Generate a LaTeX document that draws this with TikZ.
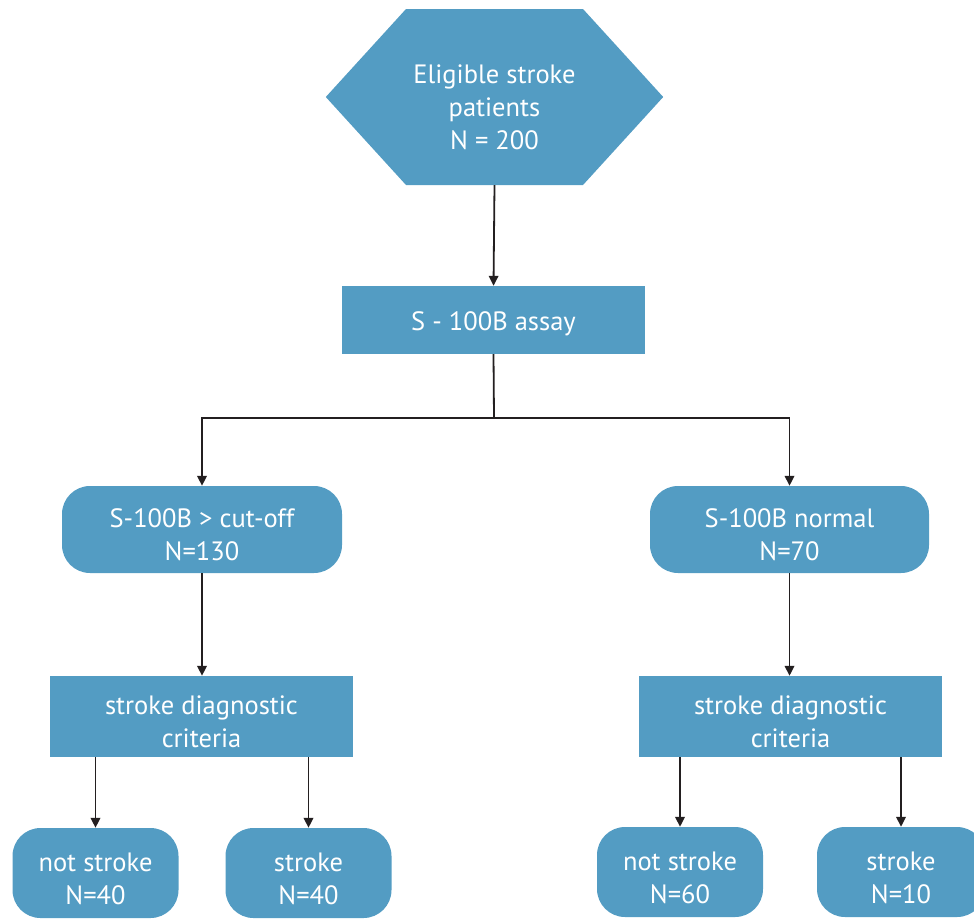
\documentclass[tikz,border=0pt]{standalone}
\usepackage{fontspec}
\setmainfont{PT Sans}
\usepackage{tikz}
\usetikzlibrary{arrows.meta}
\definecolor{boxblue}{HTML}{539CC3}
\definecolor{arrowgray}{HTML}{231F20}
\newcommand{\boxlines}[2][-8pt]{\raisebox{#1}[\height][\depth]{\begin{tabular}{@{}c@{}}#2\end{tabular}}}

\begin{document}
\begin{tikzpicture}[x=1pt, y=-1pt,
        txt/.style={text=white, align=center, font=\fontsize{26.5}{33}\selectfont},
        rectbox/.style={txt, fill=boxblue, inner sep=0pt},
        roundbox/.style={txt, fill=boxblue, rounded corners=28pt, inner sep=0pt},
        arr/.style={-{Triangle[length=10pt, width=9.5pt]}, line width=1.8pt, arrowgray}]
        \useasboundingbox (0,0) rectangle (974,918);
        \clip (0,0) rectangle (974,918);

        % Top hexagon
        \node[minimum width=337pt, minimum height=176pt, inner sep=0pt] (elig) at (494.5,97) {};
        \fill[boxblue] (406,9) -- (583,9) -- (elig.east) -- (583,185) -- (406,185) -- (elig.west) -- cycle;
        \node[txt] (eligtxt) at (494.5,107) {Eligible stroke\\patients\\N = 200};

        % Assay
        \node[rectbox, minimum width=303pt, minimum height=68pt] (assay) at (493.5,320) {\boxlines[-4pt]{S - 100B assay}};

        % Two branches
        \node[roundbox, minimum width=280pt, minimum height=87pt] (high) at (202,529.5) {\boxlines{S-100B > cut-off\\N=130}};
        \node[roundbox, minimum width=279pt, minimum height=87pt] (norm) at (789.5,529.5) {\boxlines{S-100B normal\\N=70}};

        % Diagnostic criteria
        \node[rectbox, minimum width=303pt, minimum height=81pt] (critL) at (201.5,716.5) {\boxlines{stroke diagnostic\\criteria}};
        \node[rectbox, minimum width=303pt, minimum height=81pt] (critR) at (790.5,716.5) {\boxlines{stroke diagnostic\\criteria}};

        % Outcomes
        \node[roundbox, minimum width=166pt, minimum height=90pt] (notL) at (95.5,873) {\boxlines{not stroke\\N=40}};
        \node[roundbox, minimum width=166pt, minimum height=90pt] (strL) at (308.5,873) {\boxlines{stroke\\N=40}};
        \node[roundbox, minimum width=166pt, minimum height=90pt] (notR) at (680,872) {\boxlines{not stroke\\N=60}};
        \node[roundbox, minimum width=168pt, minimum height=90pt] (strR) at (901,872) {\boxlines{stroke\\N=10}};

        % Connectors
        \coordinate (split) at (494,418);
        \draw[arr] (elig.south) -- (assay.north);
        \draw[line width=1.8pt, arrowgray] (assay.south) -- (split);
        \draw[arr] (split) -| (high.north);
        \draw[arr] (split) -| (norm.north);
        \draw[arr] (high.south) -- (high.south |- critL.north);
        \draw[arr] (norm.south) -- (norm.south |- critR.north);
        \draw[arr] (critL.south -| notL.north) -- (notL.north);
        \draw[arr] (critL.south -| strL.north) -- (strL.north);
        \draw[arr] (critR.south -| notR.north) -- (notR.north);
        \draw[arr] (critR.south -| strR.north) -- (strR.north);
\end{tikzpicture}
\end{document}
